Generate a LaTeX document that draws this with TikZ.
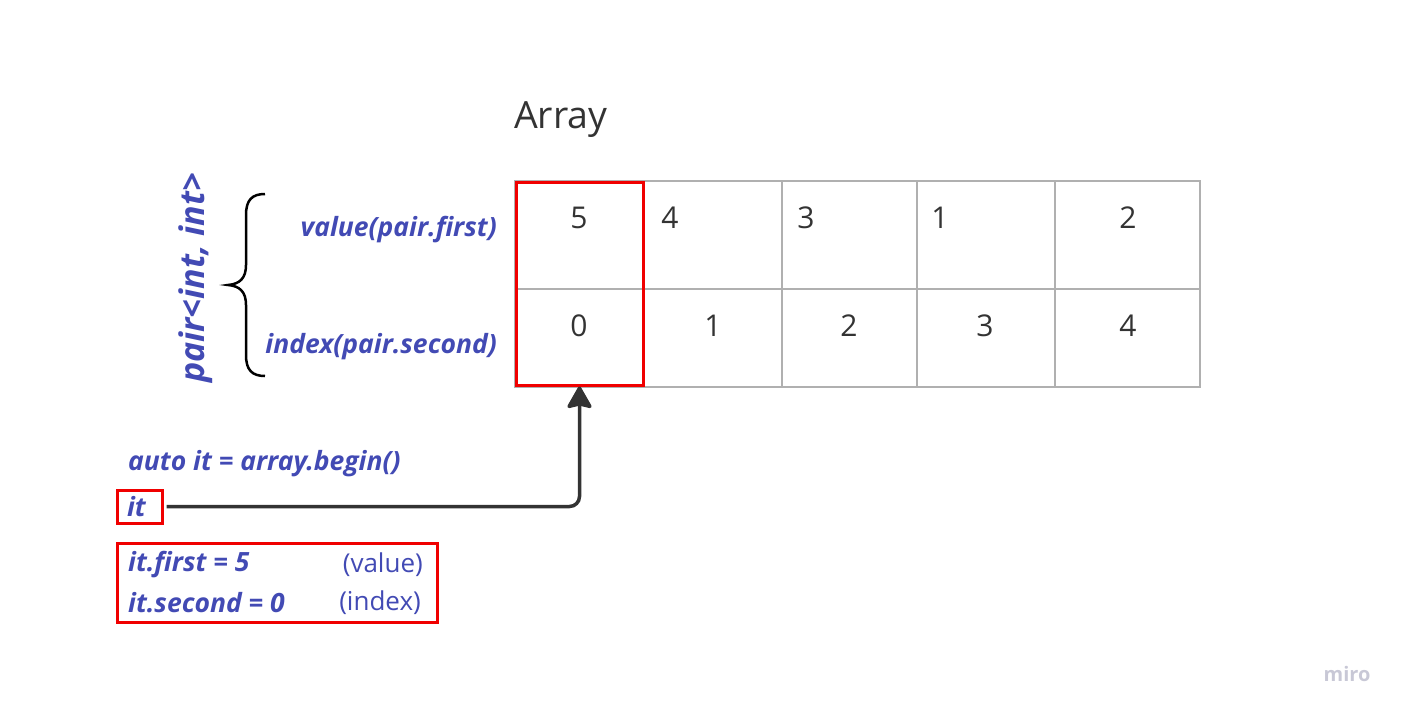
\documentclass[tikz,border=0pt]{standalone}
\usepackage{fontspec}
\setmainfont{Open Sans}
\usetikzlibrary{arrows.meta}
\definecolor{lblue}{RGB}{66,74,180}
\definecolor{dgray}{RGB}{51,51,51}
\definecolor{gridgray}{RGB}{176,176,176}
\definecolor{redc}{RGB}{240,0,0}
\definecolor{mirogray}{RGB}{200,200,214}
\tikzset{
  cell/.style={draw=gridgray, line width=2pt, inner sep=0pt},
  toprow/.style={cell, minimum height=108pt},
  botrow/.style={cell, minimum height=98pt},
  num/.style={font=\fontsize{30}{36}\selectfont, text=dgray, inner sep=0pt},
  code/.style={font=\fontsize{26.5}{30}\selectfont\bfseries\itshape, text=lblue, inner sep=0pt},
  plain/.style={font=\fontsize{26}{30}\selectfont, text=lblue, inner sep=0pt},
  redbox/.style={draw=redc, line width=3pt},
  brace/.style={draw=black, line width=2.5pt},
  ptr/.style={draw=dgray, line width=3.5pt, rounded corners=10pt, -{Stealth[length=24pt,width=27pt,inset=3pt,round]}}
}
\begin{document}
\begin{tikzpicture}[x=1pt,y=-1pt]
\useasboundingbox (0,0) rectangle (1402,713);
% title
\node[anchor=west, font=\fontsize{37.5}{42}\selectfont, text=dgray, inner sep=0pt] (title) at (514,120) {Array};
% table cells
\node[toprow, minimum width=129pt] (c11) at (579.5,235) {};
\node[toprow, minimum width=138pt] (c12) at (713,235) {};
\node[toprow, minimum width=135pt] (c13) at (849.5,235) {};
\node[toprow, minimum width=138pt] (c14) at (986,235) {};
\node[toprow, minimum width=145pt] (c15) at (1127.5,235) {};
\node[botrow, minimum width=129pt] (c21) at (579.5,338) {};
\node[botrow, minimum width=138pt] (c22) at (713,338) {};
\node[botrow, minimum width=135pt] (c23) at (849.5,338) {};
\node[botrow, minimum width=138pt] (c24) at (986,338) {};
\node[botrow, minimum width=145pt] (c25) at (1127.5,338) {};
% numbers
\node[num] (v1) at (579,218) {5};
\node[num] (v2) at (670,218) {4};
\node[num] (v3) at (806,218) {3};
\node[num] (v4) at (940,218) {1};
\node[num] (v5) at (1128,218) {2};
\node[num] (i1) at (579,326) {0};
\node[num] (i2) at (713,326) {1};
\node[num] (i3) at (849,326) {2};
\node[num] (i4) at (985,326) {3};
\node[num] (i5) at (1128,326) {4};
% selection
\node[redbox, minimum width=127pt, minimum height=203pt, inner sep=0pt] (sel) at (579.5,283.5) {};
% left labels
\node[code, anchor=east] (lv) at (497,230) {value(pair.first)};
\node[code, anchor=east] (li) at (497,347) {index(pair.second)};
\node[code, font=\fontsize{34}{38}\selectfont\bfseries\itshape, rotate=90] (pair) at (196,278) {pair<int, int>};
% brace
\draw[brace] (265,194) .. controls (252,194) and (246,200) .. (246,215) -- (246,265) .. controls (246,278) and (240,284) .. (228,285) .. controls (240,286) and (246,292) .. (246,305) -- (246,355) .. controls (246,370) and (252,376) .. (265,376);
% iterator
\node[code, anchor=west] (auto) at (128,464) {auto it = array.begin()};
\node[redbox, code, minimum height=33pt, text width=25pt, inner xsep=10pt, align=left] (itbox) at (139.5,506.5) {it};
\draw[ptr, shorten <=3pt] (itbox.east) -| (sel.south);
% info box
\node[redbox, minimum width=320pt, minimum height=79pt, inner sep=0pt] (info) at (277,582.5) {};
\node[code, anchor=west] (f1) at (128,565) {it.first = 5};
\node[code, anchor=west] (f2) at (128,603) {it.second = 0};
\node[plain, anchor=east] (f1c) at (423,565) {(value)};
\node[plain, anchor=east] (f2c) at (421,603) {(index)};
% watermark
\node[font=\fontsize{20}{24}\selectfont\bfseries, text=mirogray, inner sep=0pt] (miro) at (1347,674) {miro};
\end{tikzpicture}
\end{document}
